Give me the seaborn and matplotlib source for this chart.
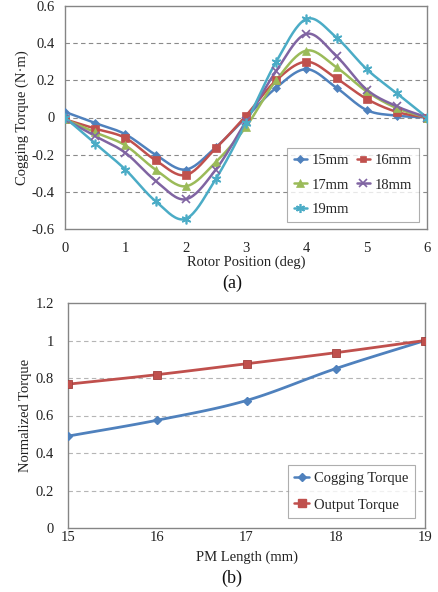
import numpy as np
import pandas as pd
import matplotlib
matplotlib.use("Agg")
import matplotlib.pyplot as plt
import seaborn as sns
from matplotlib.lines import Line2D

# ---- data: cogging torque vs rotor position for each PM length ----
rotor_pos = [0, 0.5, 1, 1.5, 2, 2.5, 3, 3.5, 4, 4.5, 5, 5.5, 6]
torque_15mm = [0.03, -0.03, -0.09, -0.20, -0.28, -0.16, 0.00, 0.16, 0.26, 0.16, 0.04, 0.01, 0.00]
torque_16mm = [-0.01, -0.06, -0.11, -0.23, -0.31, -0.165, 0.01, 0.20, 0.30, 0.21, 0.10, 0.03, 0.00]
torque_17mm = [-0.01, -0.08, -0.15, -0.28, -0.37, -0.24, -0.05, 0.20, 0.36, 0.27, 0.14, 0.05, 0.00]
torque_18mm = [-0.01, -0.10, -0.19, -0.34, -0.44, -0.28, -0.02, 0.25, 0.45, 0.33, 0.15, 0.06, 0.00]
torque_19mm = [0.00, -0.14, -0.28, -0.45, -0.545, -0.33, -0.03, 0.30, 0.53, 0.43, 0.26, 0.13, 0.00]
series_labels = ["15mm", "16mm", "17mm", "18mm", "19mm"]

# ---- data: normalized torque vs PM length ----
pm_length = [15, 16, 17, 18, 19]
cogging_norm = [0.49, 0.575, 0.68, 0.85, 1.00]
output_norm = [0.767, 0.818, 0.876, 0.935, 1.00]

colors = ["#4F81BD", "#C0504D", "#9BBB59", "#8064A2", "#4BACC6"]
markers = ["D", "s", "^", "x", (6, 2, 0)]
msizes = [4.5, 5.5, 6, 6, 7]


def smooth(x, y, n=20):
    """Catmull-Rom curve through the points (spreadsheet-style smoothed line)."""
    x = np.asarray(x, float)
    y = np.asarray(y, float)
    px = np.concatenate([[2 * x[0] - x[1]], x, [2 * x[-1] - x[-2]]])
    py = np.concatenate([[2 * y[0] - y[1]], y, [2 * y[-1] - y[-2]]])
    xs, ys = [], []
    t = np.linspace(0, 1, n, endpoint=False)
    for i in range(1, len(px) - 2):
        for p, out in ((px, xs), (py, ys)):
            p0, p1, p2, p3 = p[i - 1], p[i], p[i + 1], p[i + 2]
            out.extend(0.5 * ((2 * p1) + (-p0 + p2) * t
                              + (2 * p0 - 5 * p1 + 4 * p2 - p3) * t ** 2
                              + (-p0 + 3 * p1 - 3 * p2 + p3) * t ** 3))
    xs.append(x[-1])
    ys.append(y[-1])
    return np.array(xs), np.array(ys)


sns.set_theme(style="white")
plt.rcParams["font.family"] = ["Liberation Serif", "DejaVu Serif"]

fig = plt.figure(figsize=(4.38, 5.92), dpi=100)
W, H = 438, 592
ax1 = fig.add_axes([65 / W, 1 - 229 / H, 362 / W, 223 / H])
ax2 = fig.add_axes([68 / W, 1 - 528 / H, 357 / W, 225 / H])

spine_col = "#858585"
fs = 10.5


def mew_for(m):
    return 1.2 if m in ("x", (6, 2, 0)) else 0.5


# ---- top panel ----
all_series = [torque_15mm, torque_16mm, torque_17mm, torque_18mm, torque_19mm]
for vals, lab, c, m, ms in zip(all_series, series_labels, colors, markers, msizes):
    sx, sy = smooth(rotor_pos, vals)
    sns.lineplot(x=sx, y=sy, ax=ax1, color=c, lw=1.8, sort=False, estimator=None)
    ax1.plot(rotor_pos, vals, ls="none", marker=m, ms=ms, color=c,
             mec=c, mew=mew_for(m), zorder=4)

ax1.set_xlim(0, 6)
ax1.set_ylim(-0.6, 0.6)
ax1.set_xticks(range(0, 7))
ax1.set_yticks([-0.6, -0.4, -0.2, 0, 0.2, 0.4, 0.6])
ax1.set_yticklabels(["-0.6", "-0.4", "-0.2", "0", "0.2", "0.4", "0.6"])
for v in [-0.4, -0.2, 0, 0.2, 0.4]:
    ax1.axhline(v, color="#8a8a8a", lw=0.8, ls=(0, (4, 3)), zorder=0)
ax1.set_xlabel("Rotor Position (deg)", fontsize=fs, labelpad=0)
ax1.set_ylabel("Cogging Torque (N·m)", fontsize=fs, labelpad=1.5)

handles1 = [Line2D([], [], color=c, marker=m, ms=ms - 0.5, lw=1.8, mew=mew_for(m))
            for c, m, ms in zip(colors, markers, msizes)]
# row-wise order: 15 16 / 17 18 / 19
order = [0, 2, 4, 1, 3]
leg1 = ax1.legend([handles1[i] for i in order], [series_labels[i] for i in order],
                  ncol=2, loc="lower right", bbox_to_anchor=(0.978, 0.03),
                  borderaxespad=0, fontsize=fs, frameon=True,
                  fancybox=False, edgecolor="#9a9a9a", handlelength=0.9,
                  handletextpad=0.35, columnspacing=0.5, labelspacing=0.75,
                  borderpad=0.45)
leg1.get_frame().set_linewidth(0.8)

# ---- bottom panel ----
sx, sy = smooth(pm_length, cogging_norm)
sns.lineplot(x=sx, y=sy, ax=ax2, color=colors[0], lw=2.0, sort=False, estimator=None)
ax2.plot(pm_length, cogging_norm, ls="none", marker="D", ms=4.5, color=colors[0],
         mec=colors[0], zorder=4)
sx, sy = smooth(pm_length, output_norm)
sns.lineplot(x=sx, y=sy, ax=ax2, color=colors[1], lw=2.0, sort=False, estimator=None)
ax2.plot(pm_length, output_norm, ls="none", marker="s", ms=6, color=colors[1],
         mec="#a0403d", mew=0.6, zorder=4)

ax2.set_xlim(15, 19)
ax2.set_ylim(0, 1.2)
ax2.set_xticks(pm_length)
ax2.set_yticks([0, 0.2, 0.4, 0.6, 0.8, 1.0, 1.2])
ax2.set_yticklabels(["0", "0.2", "0.4", "0.6", "0.8", "1", "1.2"])
for v in [0.2, 0.4, 0.6, 0.8, 1.0]:
    ax2.axhline(v, color="#b5b5b5", lw=0.8, ls=(0, (4, 3)), zorder=0)
ax2.set_xlabel("PM Length (mm)", fontsize=fs, labelpad=5)
ax2.set_ylabel("Normalized Torque", fontsize=fs, labelpad=3)

handles2 = [Line2D([], [], color=colors[0], marker="D", ms=4.5, lw=1.8),
            Line2D([], [], color=colors[1], marker="s", ms=5.5, lw=1.8)]
leg2 = ax2.legend(handles2, ["Cogging Torque", "Output Torque"], loc="lower right",
                  bbox_to_anchor=(0.972, 0.044), borderaxespad=0, fontsize=fs,
                  frameon=True, fancybox=False, edgecolor="#9a9a9a",
                  handlelength=1.0, handletextpad=0.35, labelspacing=0.9,
                  borderpad=0.45)
leg2.get_frame().set_linewidth(0.8)

for ax, xpad, ypad in ((ax1, 9.5, 7.5), (ax2, 2, 10)):
    for s in ax.spines.values():
        s.set_color(spine_col)
        s.set_linewidth(1.0)
    ax.tick_params(axis="x", direction="in", length=3, width=0.8, color=spine_col,
                   labelsize=fs, pad=xpad, labelcolor="#222222")
    ax.tick_params(axis="y", length=0, labelsize=fs, pad=ypad, labelcolor="#222222")
    ax.xaxis.label.set_color("#222222")
    ax.yaxis.label.set_color("#222222")

fig.text(232 / W, 1 - 283 / H, "(a)", ha="center", va="center", fontsize=13, color="#111111")
fig.text(232 / W, 1 - 578 / H, "(b)", ha="center", va="center", fontsize=13, color="#111111")

fig.savefig("out.png", dpi=100)
